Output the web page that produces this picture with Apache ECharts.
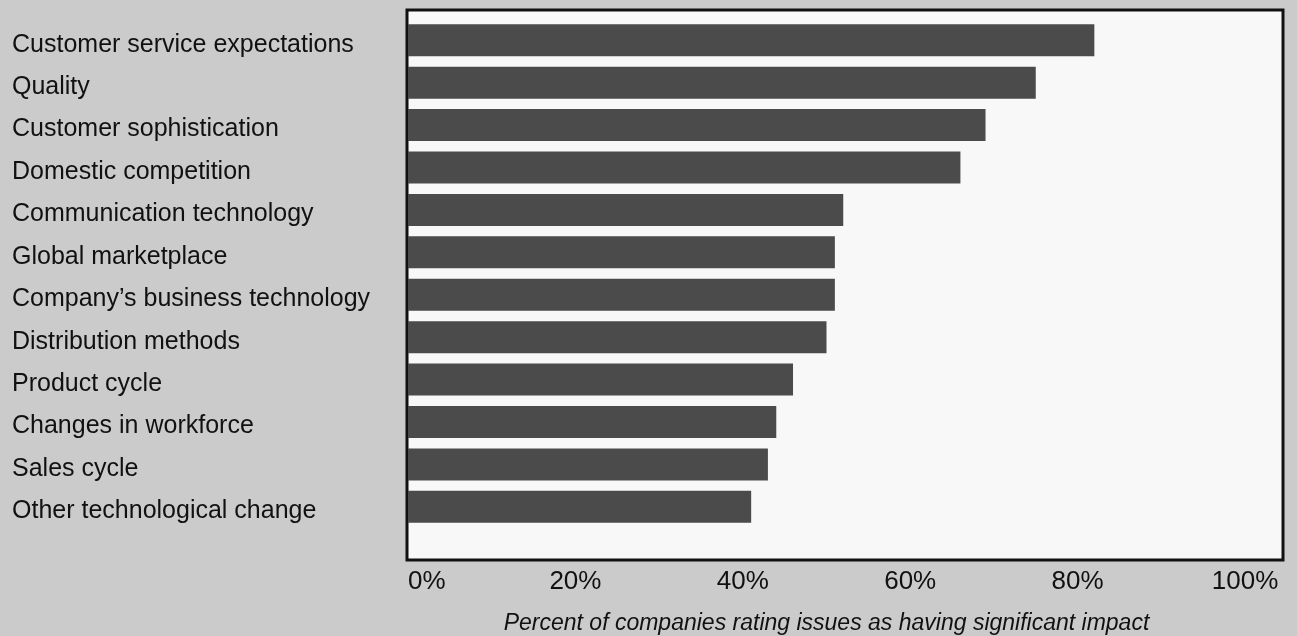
<!DOCTYPE html>
<html>
<head>
<meta charset="utf-8">
<script src="https://cdn.jsdelivr.net/npm/echarts@6/dist/echarts.min.js"></script>
<style>
html,body{margin:0;padding:0;background:#cbcbcb;}
#chart{width:1297px;height:636px;}
</style>
</head>
<body>
<div id="chart"></div>
<script>
const categories = [
  "Customer service expectations",
  "Quality",
  "Customer sophistication",
  "Domestic competition",
  "Communication technology",
  "Global marketplace",
  "Company\u2019s business technology",
  "Distribution methods",
  "Product cycle",
  "Changes in workforce",
  "Sales cycle",
  "Other technological change"
];
const values = [82, 75, 69, 66, 52, 51, 51, 50, 46, 44, 43, 41];
const tickMax = 100;
const tickStep = 20;
const axisTitle = "Percent of companies rating issues as having significant impact";

const chart = echarts.init(document.getElementById('chart'));
chart.setOption({
  backgroundColor: '#cbcbcb',
  animation: false,
  textStyle: { fontFamily: 'Liberation Sans, Arial, sans-serif' },
  grid: [
    { left: 407, top: 10, width: 876, height: 550, show: true,
      backgroundColor: '#f8f8f8', borderColor: '#111', borderWidth: 3,
      containLabel: false, outerBoundsMode: 'none' },
    { left: 408, top: 19, width: 837, height: 509,
      containLabel: false, outerBoundsMode: 'none' }
  ],
  xAxis: [
    { gridIndex: 0, type: 'value', min: 0, max: 1, show: false },
    { gridIndex: 1, type: 'value', min: 0, max: tickMax, interval: tickStep,
      offset: 33,
      axisLine: { show: false }, axisTick: { show: false }, splitLine: { show: false },
      axisLabel: { formatter: '{value}%', fontSize: 26, color: '#111', margin: 8,
                   alignMinLabel: 'left', fontFamily: 'Liberation Sans, Arial, sans-serif' },
      name: axisTitle, nameLocation: 'middle', nameGap: 51,
      nameTextStyle: { fontSize: 23, fontStyle: 'italic', color: '#111' }
    }
  ],
  yAxis: [
    { gridIndex: 0, type: 'value', min: 0, max: 1, show: false },
    { gridIndex: 1, type: 'category', data: categories, inverse: true,
      axisLine: { show: false }, axisTick: { show: false }, splitLine: { show: false },
      axisLabel: { align: 'left', margin: 396, color: '#111',
                   formatter: function (v) { return '{a|' + v + '}'; },
                   rich: { a: { fontSize: 25, color: '#111', padding: [9, 0, 0, 0],
                                fontFamily: 'Liberation Sans, Arial, sans-serif' } }
      }
    }
  ],
  series: [
    { type: 'bar', xAxisIndex: 1, yAxisIndex: 1, data: values, barWidth: 32,
      itemStyle: { color: '#4b4b4b' } }
  ]
});
</script>
</body>
</html>
